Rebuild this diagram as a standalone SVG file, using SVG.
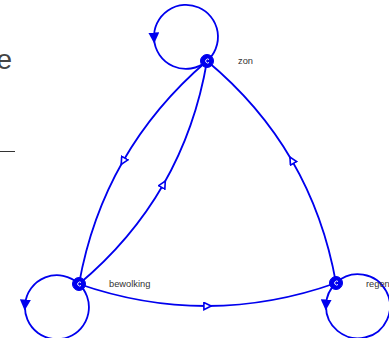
<svg xmlns="http://www.w3.org/2000/svg" width="389" height="338" viewBox="0 0 389 338">
<style>
.edge{fill:none;stroke:#0000ee;stroke-width:1.8}
.dot{fill:#0000ee;stroke:#0000ee;stroke-width:1}
.mark{fill:none;stroke:#ffffff;stroke-width:1}
.lbl{font-family:"Liberation Sans",Arial,sans-serif;font-size:9.3px;fill:#333333}
</style>
<defs>
<marker id="open" viewBox="0 0 10 10" refX="5" refY="5" markerWidth="9" markerHeight="9" markerUnits="userSpaceOnUse" orient="auto">
<path d="M1,1 L9,5 L1,9 Z" fill="#ffffff" stroke="#0000ee" stroke-width="1.8"/>
</marker>
<marker id="solid" viewBox="0 0 10 10" refX="5" refY="5" markerWidth="11" markerHeight="11" markerUnits="userSpaceOnUse" orient="auto">
<path d="M0,0 L10,5 L0,10 Z" fill="#0000ee"/>
</marker>
</defs>
<rect width="389" height="338" fill="#ffffff"/>
<text x="12" y="68.5" text-anchor="end" font-family="'Liberation Sans',Arial,sans-serif" font-size="28" fill="#444444">e</text>
<line x1="0" y1="151.5" x2="15" y2="151.5" stroke="#333333" stroke-width="1"/>
<g id="connectors">
<path class="edge" marker-mid="url(#open)" d="M207,61 Q155,105.5 123,161.25 Q91,217 79,284"/>
<path class="edge" marker-mid="url(#open)" d="M79,284 Q131.5,240 163.5,184.25 Q195.5,128.5 207,61"/>
<path class="edge" marker-mid="url(#open)" d="M79,284 Q143.25,306.25 207.5,306 Q271.75,305.75 336,283"/>
<path class="edge" marker-mid="url(#open)" d="M336,283 Q324,215.7 291.75,160.2 Q259.5,104.7 207,61"/>
<path class="edge" marker-mid="url(#solid)" d="M207,61 A32,32 0 1 0 154,38 A32,32 0 0 0 207,61"/>
<path class="edge" marker-mid="url(#solid)" d="M79,284 A32,32 0 0 0 25,305 A32,32 0 1 0 79,284"/>
<path class="edge" marker-mid="url(#solid)" d="M336,283 A32,32 0 0 0 326,305 A32,32 0 1 0 336,283"/>
</g>
<g id="zon">
<circle class="dot" cx="207" cy="61" r="6.5"/>
<path class="mark" d="M209,59.5 A2,2 0 1 0 209,62.5"/>
<text class="lbl" x="238" y="63.5">zon</text>
</g>
<g id="bewolking">
<circle class="dot" cx="79" cy="284" r="6.5"/>
<path class="mark" d="M81,282.5 A2,2 0 1 0 81,285.5"/>
<text class="lbl" x="109" y="286.5">bewolking</text>
</g>
<g id="regen">
<circle class="dot" cx="336" cy="283" r="6.5"/>
<path class="mark" d="M338,281.5 A2,2 0 1 0 338,284.5"/>
<text class="lbl" x="366" y="287">regen</text>
</g>
</svg>
